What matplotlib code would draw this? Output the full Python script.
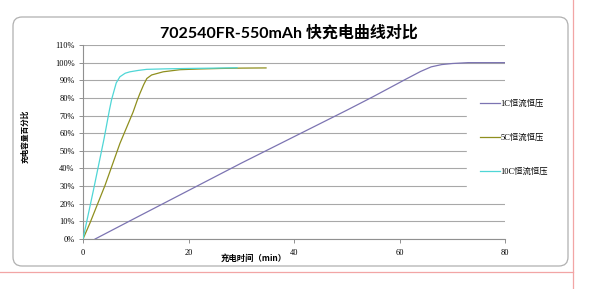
import matplotlib
matplotlib.use("Agg")
import matplotlib.pyplot as plt
import numpy as np
from matplotlib.patches import FancyBboxPatch
from matplotlib.lines import Line2D

# ---- data ----
title = "702540FR-550mAh 快充电曲线对比"
xlabel = "充电时间（min）"
ylabel = "充电容量百分比"
series_names = ["1C恒流恒压", "5C恒流恒压", "10C恒流恒压"]

x_1c = [2.3, 10, 20, 30, 40, 50, 55, 58, 61, 64, 66, 68, 70, 73, 80]
y_1c = [0, 12, 27.5, 43, 58, 73, 80.7, 85.5, 90.3, 95, 97.6, 98.9, 99.5, 100, 100]

x_5c = [0, 1.3, 4.2, 7.0, 9.5, 10.3, 10.8, 11.5, 12.1, 13.0, 15.2, 18.4, 22, 26, 30, 34.7]
y_5c = [0, 8.9, 30.6, 54.2, 72, 78.8, 82.6, 87.5, 91, 93, 94.8, 96.0, 96.4, 96.7, 96.9, 97.0]

x_10c = [0, 1, 2, 3, 4, 5.0, 5.4, 5.75, 6.3, 7.0, 8.0, 8.9, 10.5, 12.1, 16, 20, 25, 29.2]
y_10c = [0, 14, 28, 42.5, 57, 73, 78.8, 82.6, 88.5, 92, 94, 94.8, 95.6, 96.2, 96.5, 96.7, 96.9, 97.1]

xticks = [0, 20, 40, 60, 80]
yticks = list(range(0, 111, 10))
colors = ["#7c74b2", "#8f8f1e", "#4fd6d6"]

W, H = 589, 289
fig = plt.figure(figsize=(W / 100, H / 100), dpi=100)
fig.patch.set_facecolor("white")

ax = fig.add_axes([83 / W, 1 - 239 / H, 422 / W, 194 / H])
ax.set_xlim(0, 80)
ax.set_ylim(0, 110)

for xs, ys, c, n in zip([x_1c, x_5c, x_10c], [y_1c, y_5c, y_10c], colors, series_names):
    ax.plot(xs, ys, color=c, lw=0.9, label=n, zorder=3)

ax.set_xticks(xticks)
ax.set_yticks(yticks)
ax.set_yticklabels([f"{v}%" for v in yticks], family="Liberation Serif", fontsize=6)
ax.set_xticklabels([str(v) for v in xticks], family="Liberation Serif", fontsize=6)
ax.yaxis.grid(True, color="#a8a8a8", lw=0.8, zorder=0)
ax.set_axisbelow(True)
for s in ["top", "right"]:
    ax.spines[s].set_visible(False)
for s in ["left", "bottom"]:
    ax.spines[s].set_color("#909090")
    ax.spines[s].set_linewidth(0.8)
ax.tick_params(axis="both", direction="out", length=3, width=0.7, color="#909090", pad=3)
ax.tick_params(axis="x", pad=4)

leg = ax.legend(loc="upper left", bbox_to_anchor=(463 / W, 1 - 83 / H),
                bbox_transform=fig.transFigure, frameon=True, fancybox=False,
                facecolor="white", edgecolor="white", framealpha=1,
                prop={"family": ["Liberation Serif", "Noto Sans CJK SC"], "size": 6},
                handlelength=2.4, handletextpad=0.1, labelspacing=3.1, borderpad=1.5)
leg.set_zorder(10)

fig.text(288.5 / W, 1 - 33 / H, title, ha="center", va="center", fontsize=11.5,
         fontweight="bold", family=["Lato", "Noto Sans CJK SC"])
fig.text(254 / W, 1 - 258 / H, xlabel, ha="center", va="center", fontsize=6,
         fontweight="bold", family=["Noto Sans CJK SC", "DejaVu Sans"])
fig.text(25 / W, 1 - 136 / H, ylabel, ha="center", va="center", fontsize=5.5,
         rotation=90, fontweight="bold", family=["Noto Sans CJK SC", "DejaVu Sans"])

# outer rounded border
box = FancyBboxPatch((13 / 100, (H - 266) / 100), (568 - 13) / 100, (266 - 17) / 100,
                     boxstyle="round,pad=0,rounding_size=0.09",
                     transform=fig.dpi_scale_trans, facecolor="none",
                     edgecolor="#b0b0b0", lw=0.9)
fig.add_artist(box)
fig.add_artist(Line2D([573 / W, 573 / W], [0, 1], transform=fig.transFigure,
                      color="#f2a5a5", lw=0.9))
fig.add_artist(Line2D([0, 573 / W], [1 - 272 / H, 1 - 272 / H], transform=fig.transFigure,
                      color="#f2a5a5", lw=0.9))

fig.savefig("out.png", dpi=100)
